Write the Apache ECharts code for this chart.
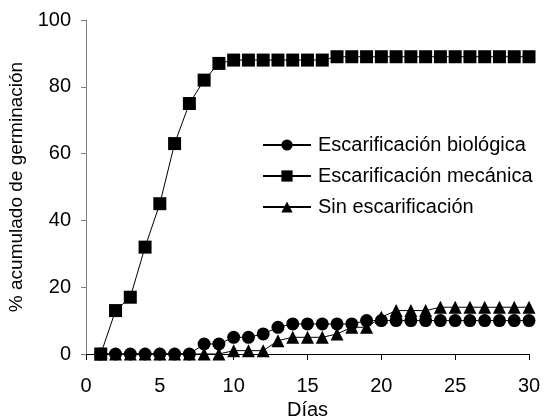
<!DOCTYPE html>
<html><head><meta charset="utf-8">
<script src="https://cdn.jsdelivr.net/npm/echarts@6/dist/echarts.min.js"></script>
<style>html,body{margin:0;padding:0;background:#fff}#c{width:544px;height:419px}</style>
</head><body><div id="c"></div>
<script>
var days = [1,2,3,4,5,6,7,8,9,10,11,12,13,14,15,16,17,18,19,20,21,22,23,24,25,26,27,28,29,30];
var biologica = [0,0,0,0,0,0,0,3,3,5,5,6,8,9,9,9,9,9,10,10,10,10,10,10,10,10,10,10,10,10];
var mecanica = [0,13,17,32,45,63,75,82,87,88,88,88,88,88,88,88,89,89,89,89,89,89,89,89,89,89,89,89,89,89];
var sin = [0,0,0,0,0,0,0,0,0,1,1,1,4,5,5,5,6,8,8,11,13,13,13,14,14,14,14,14,14,14];
var names = ['Escarificación biológica','Escarificación mecánica','Sin escarificación'];
var xTicks = [0,5,10,15,20,25,30];
var yTicks = [0,20,40,60,80,100];

function pairs(v){ return days.map(function(d,i){ return [d, v[i]]; }); }
var font = 'Liberation Sans, Arial, sans-serif';
var chart = echarts.init(document.getElementById('c'));
function mk(name, data, sym, size){
  return {name:name, type:'line', data:pairs(data), symbol:sym, symbolSize:size,
    lineStyle:{color:'#000', width:1}, itemStyle:{color:'#000'}, animation:false, z:2};
}
chart.setOption({
  backgroundColor:'#fff',
  animation:false,
  grid:{left:86, right:15, top:20, bottom:65, containLabel:false, outerBoundsMode:'none'},
  legend:{orient:'vertical', left:257, top:130, itemWidth:48, itemHeight:14, itemGap:11,
    data:names, textStyle:{fontFamily:font, fontSize:20, color:'#000', padding:[0,0,0,2]}},
  xAxis:{type:'value', min:0, max:30, interval:5, name:'Días', nameLocation:'middle', nameGap:46,
    nameTextStyle:{fontFamily:font, fontSize:20, color:'#000'},
    axisLine:{lineStyle:{color:'#000'}}, axisTick:{inside:false, length:6, lineStyle:{color:'#000'}},
    axisLabel:{fontFamily:font, fontSize:20, color:'#000', margin:22}, splitLine:{show:false}},
  yAxis:{type:'value', min:0, max:100, interval:20, name:'% acumulado de germinación', nameLocation:'middle', nameGap:58,
    nameTextStyle:{fontFamily:font, fontSize:19, color:'#000'},
    axisLine:{show:true, lineStyle:{color:'#808080'}}, axisTick:{show:true, length:5, lineStyle:{color:'#808080'}},
    axisLabel:{fontFamily:font, fontSize:20, color:'#000', margin:15}, splitLine:{show:false}},
  series:[
    mk(names[0], biologica, 'circle', 13),
    mk(names[1], mecanica, 'rect', 13),
    mk(names[2], sin, 'triangle', 13)
  ]
});
</script></body></html>
